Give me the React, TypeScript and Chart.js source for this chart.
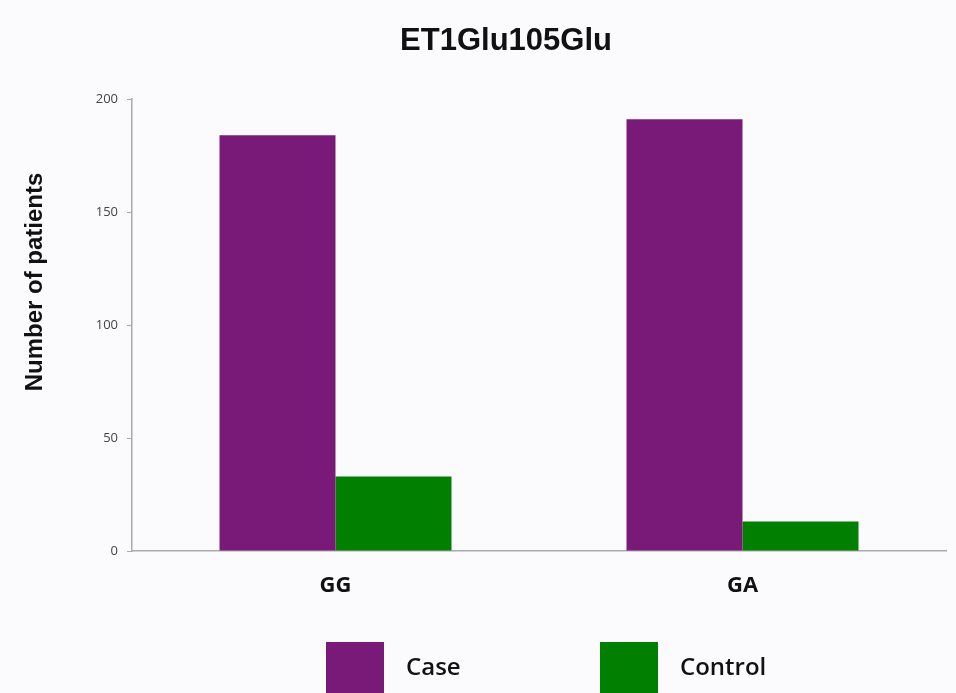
import React, { useEffect, useRef } from "react";
import { Chart, registerables } from "chart.js";

Chart.register(...registerables);

const chartTitle = "ET1Glu105Glu";
const yAxisTitle = "Number of patients";
const categories = ["GG", "GA"];
const caseValues = [184, 191];
const controlValues = [33, 13];
const seriesNames = ["Case", "Control"];
const seriesColors = ["#7a1a78", "#017f01"];
const yTicks = [0, 50, 100, 150, 200];

const bgPlugin = {
  id: "bg",
  beforeDraw(chart: any) {
    const ctx = chart.ctx;
    ctx.save();
    ctx.fillStyle = "#fbfbfd";
    ctx.fillRect(0, 0, chart.width, chart.height);
    ctx.restore();
  },
};

const textPlugin = {
  id: "texts",
  afterDraw(chart: any) {
    const ctx = chart.ctx;
    ctx.save();
    ctx.fillStyle = "#111";
    ctx.textAlign = "center";
    ctx.textBaseline = "middle";
    ctx.font = "bold 31px 'Liberation Sans', Arial";
    ctx.fillText(chartTitle, 506, 41);
    ctx.translate(35, 282);
    ctx.rotate(-Math.PI / 2);
    ctx.font = "bold 24px 'Liberation Sans', Arial";
    ctx.fillText(yAxisTitle, 0, 0);
    ctx.restore();
  },
};

const legendPlugin = {
  id: "customLegend",
  afterDraw(chart: any) {
    const ctx = chart.ctx;
    const items = chart.data.datasets;
    const starts = [326, 600];
    ctx.save();
    items.forEach((ds: any, i: number) => {
      const x = starts[i];
      ctx.fillStyle = ds.backgroundColor;
      ctx.fillRect(x, 642, 58, 70);
      ctx.fillStyle = "#111";
      ctx.font = "600 24px 'Open Sans'";
      ctx.textBaseline = "middle";
      ctx.textAlign = "left";
      ctx.fillText(ds.label, x + 80, 668);
    });
    ctx.restore();
  },
};

export default function App() {
  const ref = useRef<HTMLCanvasElement>(null);
  useEffect(() => {
    if (!ref.current) return;
    const chart = new Chart(ref.current, {
      type: "bar",
      data: {
        labels: categories,
        datasets: [
          {
            label: seriesNames[0],
            data: caseValues,
            backgroundColor: seriesColors[0],
            barPercentage: 1,
            categoryPercentage: 0.57,
          },
          {
            label: seriesNames[1],
            data: controlValues,
            backgroundColor: seriesColors[1],
            barPercentage: 1,
            categoryPercentage: 0.57,
          },
        ],
      },
      options: {
        animation: false,
        responsive: false,
        maintainAspectRatio: false,
        layout: { padding: { left: 0, right: 10, top: 99, bottom: 82 } },
        plugins: {
          legend: { display: false },
          tooltip: { enabled: false },
          title: { display: false },
        },
        scales: {
          x: {
            afterFit(scale: any) {
              scale.height = 60;
            },
            grid: { display: false },
            border: { display: true, color: "#aaaaaa", width: 1.5 },
            ticks: {
              color: "#111",
              font: { family: "'Open Sans'", size: 22, weight: "bold" },
              padding: 14,
            },
          },
          y: {
            min: 0,
            max: 200,
            afterFit(scale: any) {
              scale.width = 132;
            },
            afterBuildTicks(scale: any) {
              scale.ticks = yTicks.map((v) => ({ value: v }));
            },
            border: { display: true, color: "#aaaaaa", width: 1.5 },
            grid: {
              drawOnChartArea: false,
              drawTicks: true,
              tickLength: 5,
              color: "#aaaaaa",
            },
            ticks: {
              color: "#444",
              font: { family: "'Open Sans'", size: 13 },
              padding: 9,
            },
            title: { display: false },
          },
        },
      },
      plugins: [bgPlugin, textPlugin, legendPlugin],
    });
    return () => chart.destroy();
  }, []);
  return (
    <div style={{ position: "fixed", left: 0, top: 0, width: 956, height: 693, overflow: "hidden" }}>
      <canvas ref={ref} width={956} height={693} style={{ display: "block" }} />
    </div>
  );
}
